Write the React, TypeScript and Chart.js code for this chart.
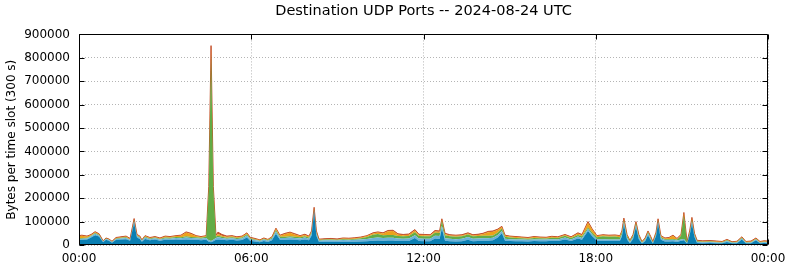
import React, { useEffect, useRef } from "react";
import { Chart, registerables } from "chart.js";

Chart.register(...registerables);

// time of each sample, hours since 00:00 UTC
const hours = [
  0.00, 0.10, 0.28, 0.42, 0.56, 0.70, 0.84, 0.94, 1.04, 1.15,
  1.29, 1.46, 1.64, 1.78, 1.92, 2.02, 2.12, 2.19, 2.30, 2.47,
  2.65, 2.82, 3.00, 3.17, 3.38, 3.55, 3.73, 3.90, 4.08, 4.25,
  4.43, 4.52, 4.60, 4.68, 4.77, 4.84, 4.98, 5.15, 5.33, 5.50,
  5.68, 5.85, 5.96, 6.13, 6.30, 6.44, 6.58, 6.72, 6.86, 7.00,
  7.18, 7.35, 7.52, 7.70, 7.87, 8.01, 8.10, 8.19, 8.27, 8.36,
  8.57, 8.78, 8.99, 9.20, 9.40, 9.61, 9.82, 10.03, 10.24, 10.41,
  10.59, 10.76, 10.94, 11.11, 11.29, 11.49, 11.70, 11.84, 12.05, 12.23,
  12.40, 12.56, 12.64, 12.75, 12.92, 13.13, 13.34, 13.55, 13.72, 13.90,
  14.07, 14.25, 14.42, 14.59, 14.73, 14.84, 15.01, 15.22, 15.43, 15.64,
  15.85, 16.06, 16.27, 16.47, 16.68, 16.93, 17.14, 17.38, 17.52, 17.73,
  17.87, 18.04, 18.25, 18.46, 18.67, 18.84, 18.91, 18.98, 19.09, 19.19,
  19.30, 19.40, 19.50, 19.61, 19.72, 19.82, 19.92, 19.99, 20.10, 20.17,
  20.27, 20.41, 20.55, 20.69, 20.83, 20.97, 21.07, 21.18, 21.27, 21.35,
  21.44, 21.53, 21.73, 21.98, 22.22, 22.40, 22.57, 22.75, 22.92, 23.09,
  23.23, 23.41, 23.58, 23.72, 23.86, 24.00,
];

// stacked layers, kilobytes per 300 s slot (bottom to top)
const portBlueK = [
  20, 22, 24, 32, 42, 36, 12, 22, 18, 10,
  22, 23, 25, 18, 95, 32, 26, 14, 26, 20,
  23, 18, 22, 21, 23, 22, 24, 22, 22, 20,
  22, 14, 12, 16, 22, 24, 22, 20, 22, 19,
  21, 32, 18, 15, 12, 17, 13, 20, 48, 22,
  22, 24, 22, 20, 24, 20, 40, 140, 40, 13,
  14, 14, 13, 14, 13, 14, 15, 16, 18, 19,
  18, 19, 19, 17, 17, 17, 30, 17, 16, 16,
  28, 26, 70, 18, 16, 15, 16, 22, 16, 17,
  18, 18, 20, 32, 50, 18, 17, 16, 16, 15,
  17, 16, 16, 18, 17, 24, 17, 28, 22, 60,
  38, 18, 18, 17, 17, 17, 36, 90, 24, 8,
  26, 78, 25, 6, 16, 42, 20, 6, 38, 92,
  22, 15, 15, 16, 13, 18, 20, 6, 42, 92,
  34, 9, 8, 9, 8, 7, 13, 7, 8, 24,
  7, 8, 20, 7, 9, 8,
];
const portLightBlueK = [
  5, 5, 4, 5, 6, 5, 3, 4, 4, 3,
  4, 5, 5, 4, 8, 5, 5, 4, 6, 5,
  6, 5, 6, 6, 7, 7, 8, 8, 7, 7,
  8, 6, 5, 6, 8, 9, 8, 7, 7, 7,
  7, 9, 7, 6, 5, 6, 5, 7, 10, 8,
  8, 8, 8, 8, 8, 7, 8, 8, 8, 5,
  6, 6, 6, 7, 7, 8, 9, 10, 12, 13,
  12, 12, 12, 11, 10, 11, 12, 11, 11, 11,
  12, 12, 12, 11, 11, 10, 11, 12, 11, 11,
  11, 11, 11, 11, 10, 9, 8, 8, 7, 7,
  7, 7, 7, 7, 7, 8, 7, 8, 8, 8,
  8, 7, 7, 7, 7, 7, 8, 8, 7, 4,
  7, 8, 7, 3, 5, 7, 6, 3, 7, 8,
  7, 6, 6, 6, 6, 6, 6, 3, 6, 8,
  6, 4, 4, 4, 3, 3, 4, 3, 3, 4,
  3, 3, 4, 3, 3, 3,
];
const portGreenK = [
  3, 3, 3, 3, 3, 3, 1, 2, 2, 1,
  2, 3, 3, 2, 4, 3, 3, 2, 3, 3,
  3, 3, 4, 4, 4, 4, 5, 4, 4, 4,
  5, 215, 800, 213, 6, 6, 5, 4, 4, 4,
  4, 5, 4, 3, 2, 3, 3, 4, 6, 5,
  5, 5, 5, 5, 5, 5, 5, 6, 5, 3,
  3, 4, 3, 4, 4, 4, 5, 8, 14, 15,
  12, 12, 12, 10, 10, 10, 12, 10, 10, 10,
  12, 13, 22, 13, 10, 10, 10, 11, 10, 10,
  10, 10, 10, 10, 10, 8, 7, 6, 6, 5,
  6, 6, 5, 6, 6, 7, 6, 7, 7, 7,
  7, 8, 12, 11, 12, 9, 9, 8, 7, 4,
  6, 7, 6, 3, 4, 5, 4, 3, 5, 6,
  5, 4, 4, 4, 4, 15, 100, 3, 6, 8,
  5, 3, 2, 2, 2, 2, 3, 2, 2, 3,
  2, 2, 2, 2, 2, 2,
];
const portOrangeK = [
  9, 9, 5, 3, 3, 2, 1, 1, 1, 1,
  2, 2, 3, 2, 3, 3, 2, 1, 3, 2,
  2, 2, 4, 3, 4, 7, 16, 13, 5, 3,
  3, 10, 25, 10, 3, 8, 5, 4, 4, 3,
  4, 4, 2, 2, 2, 2, 2, 2, 5, 5,
  12, 15, 10, 5, 6, 4, 4, 4, 4, 2,
  2, 2, 2, 3, 3, 3, 3, 4, 5, 6,
  7, 16, 17, 7, 5, 6, 8, 5, 5, 4,
  6, 6, 5, 5, 4, 4, 4, 4, 4, 5,
  8, 16, 16, 12, 7, 4, 4, 4, 3, 3,
  4, 3, 3, 4, 3, 4, 3, 6, 5, 20,
  14, 5, 5, 5, 5, 5, 5, 5, 5, 3,
  4, 4, 5, 2, 3, 4, 3, 2, 3, 3,
  4, 3, 5, 14, 3, 4, 10, 2, 4, 6,
  3, 2, 2, 2, 2, 2, 2, 1, 2, 2,
  2, 2, 2, 2, 2, 2,
];
const portRedK = [
  3, 3, 2, 2, 3, 2, 1, 1, 1, 1,
  2, 2, 2, 2, 3, 2, 2, 1, 2, 2,
  2, 2, 2, 2, 2, 2, 3, 3, 2, 2,
  2, 5, 10, 5, 3, 8, 5, 3, 3, 2,
  2, 2, 2, 2, 1, 2, 1, 2, 3, 2,
  3, 3, 3, 2, 3, 2, 3, 3, 3, 2,
  2, 2, 2, 2, 2, 2, 2, 2, 3, 3,
  3, 3, 3, 3, 3, 3, 4, 3, 3, 3,
  4, 3, 3, 3, 3, 3, 3, 3, 3, 3,
  3, 3, 3, 3, 3, 3, 2, 2, 2, 2,
  2, 2, 2, 2, 2, 2, 2, 3, 3, 5,
  3, 2, 2, 2, 2, 2, 2, 4, 2, 1,
  2, 3, 2, 1, 2, 2, 2, 1, 2, 3,
  2, 2, 2, 2, 2, 2, 3, 1, 2, 4,
  2, 2, 2, 2, 2, 1, 2, 1, 1, 2,
  1, 2, 2, 1, 2, 2,
];

const layers = [
  { label: "port A", values: portBlueK, color: "#0a7fb3" },
  { label: "port B", values: portLightBlueK, color: "#6cb2d8" },
  { label: "port C", values: portGreenK, color: "#62ac45" },
  { label: "port D", values: portOrangeK, color: "#eca21c" },
  { label: "port E", values: portRedK, color: "#c4502a" },
];

const xTickHours = [0, 6, 12, 18, 24];
const yMax = 900000;
const yStep = 100000;
const titleText = "Destination UDP Ports -- 2024-08-24 UTC";
const yTitle = "Bytes per time slot (300 s)";

const framePlugin = {
  id: "frame",
  afterDatasetsDraw(chart: any) {
    const { ctx, chartArea: a, scales } = chart;
    ctx.save();
    ctx.strokeStyle = "#000";
    ctx.lineWidth = 1;
    const L = Math.round(a.left) + 0.5;
    const R = Math.round(a.right) - 0.5;
    const T = Math.round(a.top) + 0.5;
    const B = Math.round(a.bottom) - 0.5;
    ctx.beginPath();
    ctx.rect(L, T, R - L, B - T);
    ctx.stroke();
    ctx.beginPath();
    for (let v = 0; v <= yMax; v += yStep) {
      const y = Math.round(scales.y.getPixelForValue(v)) + 0.5;
      ctx.moveTo(L, y);
      ctx.lineTo(L + 5, y);
      ctx.moveTo(R, y);
      ctx.lineTo(R - 5, y);
    }
    for (const h of xTickHours) {
      const x = Math.round(scales.x.getPixelForValue(h)) + 0.5;
      ctx.moveTo(x, T);
      ctx.lineTo(x, T + 5);
      ctx.moveTo(x, B);
      ctx.lineTo(x, B - 5);
    }
    ctx.stroke();
    ctx.restore();
  },
};

export default function App() {
  const ref = useRef<HTMLCanvasElement>(null);
  useEffect(() => {
    if (!ref.current) return;
    Chart.defaults.font.family = "'DejaVu Sans', sans-serif";
    Chart.defaults.color = "#000";
    const chart = new Chart(ref.current, {
      type: "line",
      data: {
        datasets: layers.map((l, i) => ({
          label: l.label,
          data: hours.map((h, j) => ({ x: h, y: l.values[j] * 1000 })),
          backgroundColor: l.color,
          borderColor: l.color,
          borderWidth: i === layers.length - 1 ? 1 : 0,
          pointRadius: 0,
          tension: 0,
          fill: i === 0 ? "origin" : "-1",
        })),
      },
      options: {
        animation: false,
        responsive: false,
        maintainAspectRatio: false,
        layout: { padding: { left: 0, right: 22, top: 0, bottom: 0 } },
        plugins: {
          legend: { display: false },
          tooltip: { enabled: false },
          title: {
            display: true,
            text: titleText,
            fullSize: false,
            font: { size: 14.5, weight: "normal" },
            color: "#000",
            padding: { top: 3, bottom: 14 },
          },
        },
        scales: {
          x: {
            type: "linear",
            min: 0,
            max: 24,
            afterFit: (s: any) => {
              s.height = 22;
              s.paddingRight = 0;
              s.paddingLeft = 0;
            },
            ticks: {
              stepSize: 6,
              autoSkip: false,
              maxRotation: 0,
              padding: 7,
              font: { size: 12 },
              color: "#000",
              callback: (v: any) => {
                const h = Number(v) % 24;
                return (h < 10 ? "0" + h : String(h)) + ":00";
              },
            },
            grid: { color: "#b4b4b4", drawTicks: false, lineWidth: 1 },
            border: { display: false, dash: [1, 2] },
          },
          y: {
            stacked: true,
            min: 0,
            max: yMax,
            afterFit: (s: any) => { s.width = 79; },
            ticks: {
              stepSize: yStep,
              padding: 9,
              font: { size: 12 },
              color: "#000",
              callback: (v: any) => String(v),
            },
            grid: { color: "#b4b4b4", drawTicks: false, lineWidth: 1 },
            border: { display: false, dash: [1, 2] },
            title: {
              display: true,
              text: yTitle,
              font: { size: 12 },
              color: "#000",
              padding: { top: 5, bottom: 0 },
            },
          },
        },
      },
      plugins: [framePlugin],
    });
    return () => chart.destroy();
  }, []);
  return (
    <div style={{ position: "absolute", left: 0, top: 0, width: 790, height: 267, background: "#fff" }}>
      <canvas ref={ref} width={790} height={267} style={{ width: 790, height: 267, display: "block" }} />
    </div>
  );
}
